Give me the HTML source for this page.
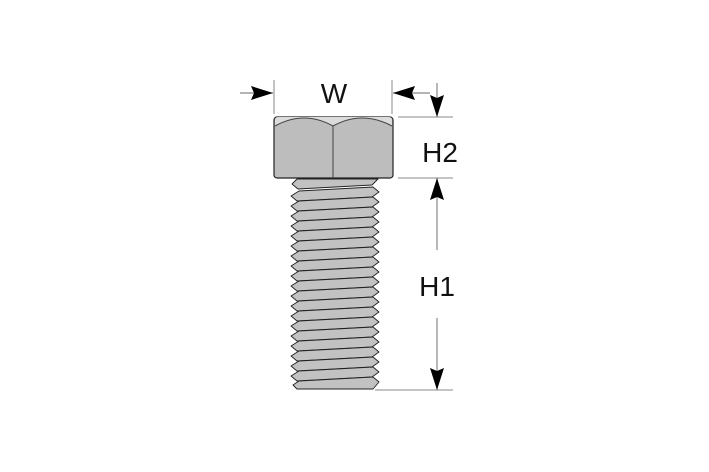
<!DOCTYPE html>
<html><head><style>html,body{margin:0;padding:0;background:#fff}svg{display:block}</style></head>
<body>
<svg width="709" height="472" viewBox="0 0 709 472" xmlns="http://www.w3.org/2000/svg">
<defs>
<marker id="ah" markerWidth="22" markerHeight="14" refX="22" refY="7" orient="auto" markerUnits="userSpaceOnUse" viewBox="0 0 22 14"><path d="M0,0 L22,7 L0,14 L3,7 Z" fill="#000"/></marker>
</defs>
<g stroke="#222" stroke-width="0.9" fill="#c2c2c2" stroke-linejoin="round">
<path d="M297,179 L378,179 L372,185 L298,189 L292,184 Z"/>
<path d="M299,191 L373,187 L379,192 L372,197 L297,201 L291,196 Z"/>
<path d="M299,201 L373,197 L379,202 L372,207 L297,211 L291,206 Z"/>
<path d="M299,211 L373,207 L379,212 L372,217 L297,221 L291,216 Z"/>
<path d="M299,221 L373,217 L379,222 L372,227 L297,231 L291,226 Z"/>
<path d="M299,231 L373,227 L379,232 L372,237 L297,241 L291,236 Z"/>
<path d="M299,241 L373,237 L379,242 L372,247 L297,251 L291,246 Z"/>
<path d="M299,251 L373,247 L379,252 L372,257 L297,261 L291,256 Z"/>
<path d="M299,261 L373,257 L379,262 L372,267 L297,271 L291,266 Z"/>
<path d="M299,271 L373,267 L379,272 L372,277 L297,281 L291,276 Z"/>
<path d="M299,281 L373,277 L379,282 L372,287 L297,291 L291,286 Z"/>
<path d="M299,291 L373,287 L379,292 L372,297 L297,301 L291,296 Z"/>
<path d="M299,301 L373,297 L379,302 L372,307 L297,311 L291,306 Z"/>
<path d="M299,311 L373,307 L379,312 L372,317 L297,321 L291,316 Z"/>
<path d="M299,321 L373,317 L379,322 L372,327 L297,331 L291,326 Z"/>
<path d="M299,331 L373,327 L379,332 L372,337 L297,341 L291,336 Z"/>
<path d="M299,341 L373,337 L379,342 L372,347 L297,351 L291,346 Z"/>
<path d="M299,351 L373,347 L379,352 L372,357 L297,361 L291,356 Z"/>
<path d="M299,361 L373,357 L379,362 L372,367 L297,371 L291,366 Z"/>
<path d="M299,371 L373,367 L379,372 L372,377 L297,381 L291,376 Z"/>
<path d="M299,381 L373,377 L379,382 L373,389 L297,389 L293,385 Z"/>
</g>
<!-- head -->
<rect x="274" y="117" width="119" height="61" fill="#bdbdbd" stroke="#222" stroke-width="1.2" rx="3"/>
<path d="M275,126 Q304,110 333,126 Q362,110 392,126 L392,120 Q392,117 389,117 L278,117 Q275,117 275,120 Z" fill="#dcdcdc" stroke="none"/>
<path d="M275,126 Q304,110 333,126 Q362,110 392,126" fill="none" stroke="#444" stroke-width="1"/>
<line x1="333" y1="126" x2="333" y2="178" stroke="#444" stroke-width="1"/>
<g stroke="#888" stroke-width="1">
<line x1="274" y1="80" x2="274" y2="114"/>
<line x1="392" y1="80" x2="392" y2="114"/>
<line x1="398" y1="117" x2="453" y2="117"/>
<line x1="398" y1="178" x2="453" y2="178"/>
<line x1="375" y1="390" x2="453" y2="390"/>
</g>
<g stroke="#888" stroke-width="1.2" fill="none">
<line x1="240" y1="93" x2="273" y2="93" marker-end="url(#ah)"/>
<line x1="430" y1="93" x2="393" y2="93" marker-end="url(#ah)"/>
<line x1="437" y1="83" x2="437" y2="117" marker-end="url(#ah)"/>
<line x1="437" y1="250" x2="437" y2="178" marker-end="url(#ah)"/>
<line x1="437" y1="318" x2="437" y2="390" marker-end="url(#ah)"/>
</g>
<g font-family="Liberation Sans, sans-serif" font-size="28" fill="#111">
<text x="334" y="103" text-anchor="middle">W</text>
<text x="440" y="162" text-anchor="middle">H2</text>
<text x="437" y="296" text-anchor="middle">H1</text>
</g>
</svg>
</body></html>
